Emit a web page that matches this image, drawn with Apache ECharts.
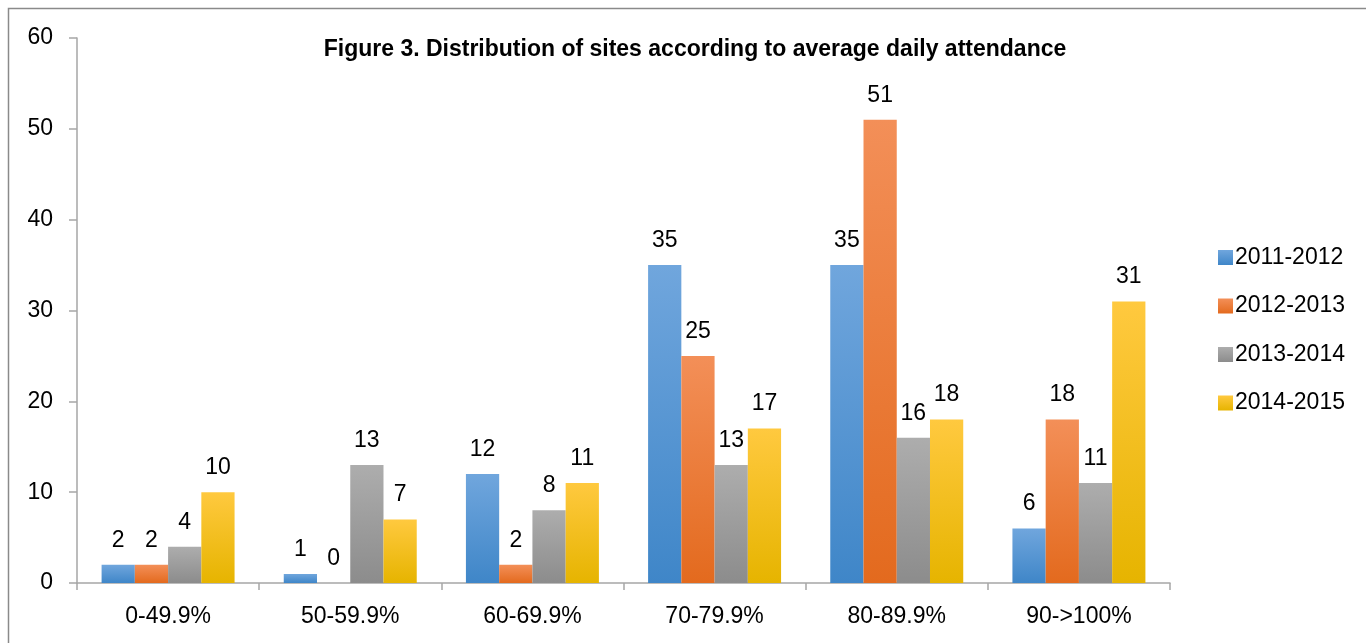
<!DOCTYPE html>
<html>
<head>
<meta charset="utf-8">
<script src="https://cdn.jsdelivr.net/npm/echarts@6/dist/echarts.min.js"></script>
<style>
html,body{margin:0;padding:0;background:#fff;}
#chart{width:1366px;height:643px;}
</style>
</head>
<body>
<div id="chart"></div>
<script>
const categories = ['0-49.9%', '50-59.9%', '60-69.9%', '70-79.9%', '80-89.9%', '90->100%'];
const seriesNames = ['2011-2012', '2012-2013', '2013-2014', '2014-2015'];
const s2011 = [2, 1, 12, 35, 35, 6];
const s2012 = [2, 0, 2, 25, 51, 18];
const s2013 = [4, 13, 8, 13, 16, 11];
const s2014 = [10, 7, 11, 17, 18, 31];
const yTicks = [0, 10, 20, 30, 40, 50, 60];
const titleText = 'Figure 3. Distribution of sites according to average daily attendance';

const FONT = '"Liberation Sans", Arial, sans-serif';
const gradients = [
  ['#70a6dd', '#3f86c8'],
  ['#f38f58', '#e36a1e'],
  ['#adadad', '#8c8c8c'],
  ['#ffc93f', '#e6b400']
];
function grad(c) {
  return new echarts.graphic.LinearGradient(0, 0, 0, 1, [
    {offset: 0, color: c[0]}, {offset: 1, color: c[1]}
  ]);
}
const allData = [s2011, s2012, s2013, s2014];

const chart = echarts.init(document.getElementById('chart'), null, {renderer: 'canvas'});
chart.setOption({
  backgroundColor: '#ffffff',
  animation: false,
  title: {
    text: titleText,
    left: 690,
    top: 33,
    textAlign: 'center',
    textStyle: {fontFamily: FONT, fontSize: 23, fontWeight: 'bold', color: '#000'}
  },
  graphic: [{
    type: 'rect',
    shape: {x: 8.5, y: 8.5, width: 1500, height: 800},
    style: {fill: 'none', stroke: '#8a8a8a', lineWidth: 1.5},
    silent: true
  }],
  legend: {
    orient: 'vertical',
    left: 1213,
    top: 241,
    itemWidth: 15,
    itemHeight: 15,
    itemGap: 25.5,
    icon: 'rect',
    data: seriesNames,
    textStyle: {fontFamily: FONT, fontSize: 23, color: '#000', lineHeight: 22, padding: [0,0,0,-3]}
  },
  grid: {left: 77, right: 196, top: 38, bottom: 60, containLabel: false},
  xAxis: {
    type: 'category',
    data: categories,
    axisLine: {lineStyle: {color: '#a6a6a6', width: 1.5}},
    axisTick: {show: true, alignWithLabel: false, length: 7, lineStyle: {color: '#a6a6a6', width: 1.5}},
    axisLabel: {fontFamily: FONT, fontSize: 23, color: '#000', margin: 22}
  },
  yAxis: {
    type: 'value',
    min: 0, max: 60, interval: 10,
    splitLine: {show: false},
    axisLine: {show: true, lineStyle: {color: '#a6a6a6', width: 1.5}},
    axisTick: {show: true, length: 8, lineStyle: {color: '#a6a6a6', width: 1.5}},
    axisLabel: {
      fontFamily: FONT, fontSize: 23, color: '#000', margin: 24,
      formatter: v => yTicks.includes(v) ? String(v) : ''
    }
  },
  series: seriesNames.map((name, i) => ({
    name: name,
    type: 'bar',
    data: allData[i],
    barGap: '0%',
    barCategoryGap: '27%',
    itemStyle: {color: grad(gradients[i])},
    label: {
      show: true, position: 'top', distance: 13,
      fontFamily: FONT, fontSize: 23, color: '#000'
    }
  }))
});
</script>
</body>
</html>
